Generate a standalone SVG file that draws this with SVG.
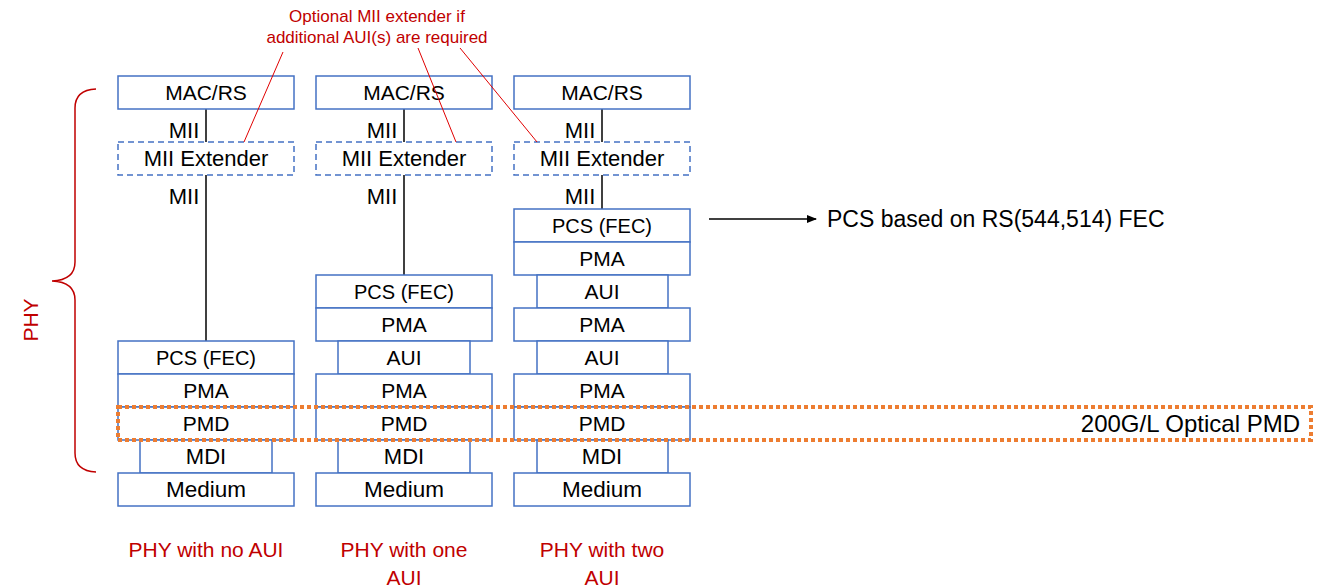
<svg xmlns="http://www.w3.org/2000/svg" width="1327" height="588" viewBox="0 0 1327 588">
<defs>
<style>
.b{fill:#fff;stroke:#4472C4;stroke-width:1.5}
.d{fill:#fff;stroke:#4472C4;stroke-width:1.5;stroke-dasharray:6 4}
.t{font-family:"Liberation Sans",Arial,sans-serif;font-size:21px;fill:#000;text-anchor:middle}
.mii{font-size:22px}
.pcs{font-size:20px}
.med{font-size:22.5px}
.r{font-family:"Liberation Sans",Arial,sans-serif;fill:#C00000;text-anchor:middle}
.c{stroke:#000;stroke-width:1.5;fill:none}
.lead{stroke:#E00000;stroke-width:1;fill:none}
</style>
<marker id="ah" markerWidth="10" markerHeight="8" refX="9" refY="4" orient="auto" markerUnits="userSpaceOnUse">
<path d="M0,0 L10,4 L0,8 z" fill="#000"/>
</marker>
</defs>
<rect width="1327" height="588" fill="#fff"/>

<g id="connectors">
<line class="c" x1="206" y1="109" x2="206" y2="142"/>
<line class="c" x1="206" y1="175" x2="206" y2="341"/>
<line class="c" x1="404" y1="109" x2="404" y2="142"/>
<line class="c" x1="404" y1="175" x2="404" y2="275"/>
<line class="c" x1="602" y1="109" x2="602" y2="142"/>
<line class="c" x1="602" y1="175" x2="602" y2="209"/>
<line class="c" x1="709" y1="219" x2="816" y2="219" marker-end="url(#ah)"/>
</g>

<g id="mii-labels">
<text class="t mii" x="184" y="138">MII</text>
<text class="t mii" x="184" y="204">MII</text>
<text class="t mii" x="382" y="138">MII</text>
<text class="t mii" x="382" y="204">MII</text>
<text class="t mii" x="580" y="138">MII</text>
<text class="t mii" x="580" y="204">MII</text>
</g>

<g id="col1">
<g id="c1-mac"><rect class="b" x="118" y="76" width="176" height="33"/><text class="t" x="206" y="100">MAC/RS</text></g>
<g id="c1-ext"><rect class="d" x="118" y="142" width="176" height="33"/><text class="t mii" x="206" y="166">MII Extender</text></g>
<g id="c1-pcs"><rect class="b" x="118" y="341" width="176" height="33"/><text class="t pcs" x="206" y="365">PCS (FEC)</text></g>
<g id="c1-pma"><rect class="b" x="118" y="374" width="176" height="33"/><text class="t" x="206" y="398">PMA</text></g>
<g id="c1-pmd"><rect class="b" x="118" y="407" width="176" height="33"/><text class="t" x="206" y="431">PMD</text></g>
<g id="c1-mdi"><rect class="b" x="140" y="440" width="132" height="33"/><text class="t mii" x="206" y="464">MDI</text></g>
<g id="c1-med"><rect class="b" x="118" y="473" width="176" height="33"/><text class="t med" x="206" y="497">Medium</text></g>
</g>

<g id="col2">
<g id="c2-mac"><rect class="b" x="316" y="76" width="176" height="33"/><text class="t" x="404" y="100">MAC/RS</text></g>
<g id="c2-ext"><rect class="d" x="316" y="142" width="176" height="33"/><text class="t mii" x="404" y="166">MII Extender</text></g>
<g id="c2-pcs"><rect class="b" x="316" y="275" width="176" height="33"/><text class="t pcs" x="404" y="299">PCS (FEC)</text></g>
<g id="c2-pma1"><rect class="b" x="316" y="308" width="176" height="33"/><text class="t" x="404" y="332">PMA</text></g>
<g id="c2-aui"><rect class="b" x="338" y="341" width="132" height="33"/><text class="t" x="404" y="365">AUI</text></g>
<g id="c2-pma2"><rect class="b" x="316" y="374" width="176" height="33"/><text class="t" x="404" y="398">PMA</text></g>
<g id="c2-pmd"><rect class="b" x="316" y="407" width="176" height="33"/><text class="t" x="404" y="431">PMD</text></g>
<g id="c2-mdi"><rect class="b" x="338" y="440" width="132" height="33"/><text class="t mii" x="404" y="464">MDI</text></g>
<g id="c2-med"><rect class="b" x="316" y="473" width="176" height="33"/><text class="t med" x="404" y="497">Medium</text></g>
</g>

<g id="col3">
<g id="c3-mac"><rect class="b" x="514" y="76" width="176" height="33"/><text class="t" x="602" y="100">MAC/RS</text></g>
<g id="c3-ext"><rect class="d" x="514" y="142" width="176" height="33"/><text class="t mii" x="602" y="166">MII Extender</text></g>
<g id="c3-pcs"><rect class="b" x="514" y="209" width="176" height="33"/><text class="t pcs" x="602" y="233">PCS (FEC)</text></g>
<g id="c3-pma1"><rect class="b" x="514" y="242" width="176" height="33"/><text class="t" x="602" y="266">PMA</text></g>
<g id="c3-aui1"><rect class="b" x="537" y="275" width="131" height="33"/><text class="t" x="602" y="299">AUI</text></g>
<g id="c3-pma2"><rect class="b" x="514" y="308" width="176" height="33"/><text class="t" x="602" y="332">PMA</text></g>
<g id="c3-aui2"><rect class="b" x="537" y="341" width="131" height="33"/><text class="t" x="602" y="365">AUI</text></g>
<g id="c3-pma3"><rect class="b" x="514" y="374" width="176" height="33"/><text class="t" x="602" y="398">PMA</text></g>
<g id="c3-pmd"><rect class="b" x="514" y="407" width="176" height="33"/><text class="t" x="602" y="431">PMD</text></g>
<g id="c3-mdi"><rect class="b" x="537" y="440" width="131" height="33"/><text class="t mii" x="602" y="464">MDI</text></g>
<g id="c3-med"><rect class="b" x="514" y="473" width="176" height="33"/><text class="t med" x="602" y="497">Medium</text></g>
</g>

<g id="optical-pmd">
<rect x="118" y="407" width="1193" height="33" fill="none" stroke="#ED7D31" stroke-width="4" stroke-dasharray="4 3"/>
<text class="t" x="1300" y="432" style="text-anchor:end;font-size:24px">200G/L Optical PMD</text>
</g>

<g id="pcs-note">
<text class="t" x="827" y="227" style="text-anchor:start;font-size:23px">PCS based on RS(544,514) FEC</text>
</g>

<g id="annotation">
<text class="r" x="377" y="22" font-size="17">Optional MII extender if</text>
<text class="r" x="377" y="43" font-size="17">additional AUI(s) are required</text>
<g id="leaders">
<line class="lead" x1="283" y1="52" x2="244" y2="142"/>
<line class="lead" x1="418" y1="48" x2="456" y2="142"/>
<line class="lead" x1="460" y1="48" x2="537" y2="142"/>
</g>
</g>

<g id="phy-brace">
<path d="M96,89 Q75,90 75,108 L75,262 Q75,280 52,281 Q75,282 75,300 L75,453 Q75,471 96,472" fill="none" stroke="#C00000" stroke-width="1.5"/>
<text class="r" font-size="21" transform="translate(38,320) rotate(-90)">PHY</text>
</g>

<g id="captions">
<text class="r" font-size="21" x="206" y="557">PHY with no AUI</text>
<text class="r" font-size="21" x="404" y="557">PHY with one</text>
<text class="r" font-size="21" x="404" y="585">AUI</text>
<text class="r" font-size="21" x="602" y="557">PHY with two</text>
<text class="r" font-size="21" x="602" y="585">AUI</text>
</g>
</svg>
